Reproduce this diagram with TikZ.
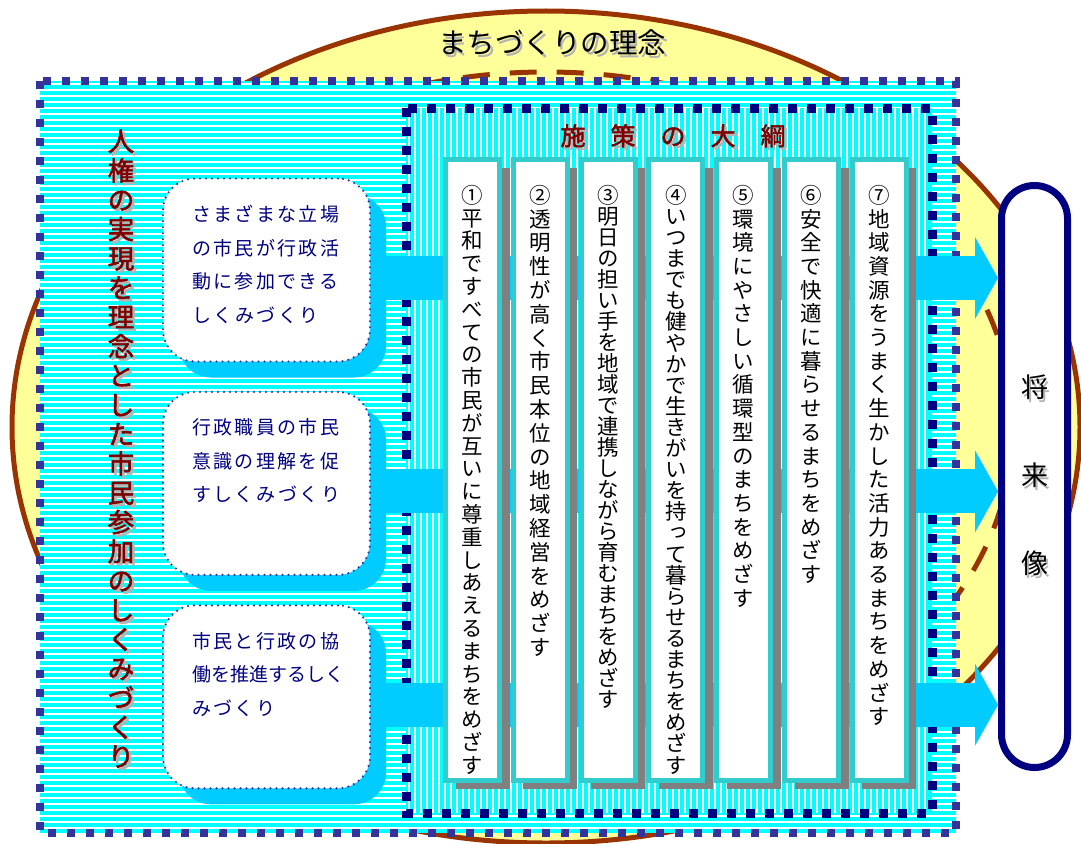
\documentclass[tikz,border=0pt]{standalone}
\usepackage{fontspec}
\setmainfont{Noto Sans CJK JP}
\newfontfamily\jpbold{Noto Sans CJK JP}[FakeBold=2]
\newfontfamily\jpvert{Noto Sans CJK JP}[RawFeature=+vert]
\newfontfamily\jpwide{Noto Sans CJK JP}[LetterSpace=12.6]
\usetikzlibrary{arrows.meta,positioning,shadows}

\definecolor{yellowbg}{HTML}{FFFF99}
\definecolor{brownline}{HTML}{993300}
\definecolor{stripecyan}{HTML}{00FFFF}
\definecolor{outerdot}{HTML}{333399}
\definecolor{innerdot}{HTML}{000080}
\definecolor{flowcyan}{HTML}{00CCFF}
\definecolor{colteal}{HTML}{33CCCC}
\definecolor{colshadow}{HTML}{808080}
\definecolor{darkred}{HTML}{800000}
\definecolor{txtshadow}{HTML}{B4B4B4}

\pgfdeclarelayer{backdrop}
\pgfdeclarelayer{flows}
\pgfsetlayers{backdrop,flows,main}

% characters stacked top to bottom
\ExplSyntaxOn
\NewDocumentCommand \tate { m m }
  {
    \tl_set:Nx \l_tmpa_tl {#2}
    \vbox:n
      {
        \skip_set:Nn \baselineskip {#1}
        \dim_set:Nn \lineskiplimit { -\c_max_dim }
        \tl_map_inline:Nn \l_tmpa_tl { \hbox_to_wd:nn { 1em } { \hss ##1 \hss } }
      }
  }
\ExplSyntaxOff
% grey text shadow
\newcommand\withshadow[1]{\makebox[0pt][l]{\hspace{2.5pt}\raisebox{-2.5pt}{\color{txtshadow}#1}}#1}

\begin{document}
\begin{tikzpicture}[
    x=1pt, y=-1pt,
    sqdots/.style ={line width=8pt, dash pattern=on 8pt off 11pt, line cap=butt},
    title/.style  ={font=\fontsize{28.5}{30}\selectfont, inner sep=0pt},
    heading/.style={font=\jpbold\fontsize{25}{27}\selectfont, text=darkred, inner sep=0pt},
    mech/.style   ={rectangle, rounded corners=32pt, draw=outerdot, line width=2.4pt,
                    dash pattern=on 0pt off 6pt, line cap=round, fill=white,
                    minimum width=207pt, minimum height=183pt, inner sep=0pt,
                    drop shadow={shadow xshift=16pt, shadow yshift=-16pt,
                                 fill=flowcyan, opacity=1}},
    mechtext/.style={font=\jpwide\fontsize{19}{33.5}\selectfont, text=innerdot,
                    align=left, inner sep=0pt},
    col/.style    ={rectangle, draw=colteal, line width=5pt, fill=white,
                    minimum width=54pt, minimum height=621pt, inner sep=0pt,
                    drop shadow={shadow xshift=10pt, shadow yshift=-8pt,
                                 fill=colshadow, opacity=1}},
    coltext/.style={font=\jpvert\fontsize{21.5}{23}\selectfont, inner sep=0pt},
    pill/.style   ={rectangle, rounded corners=33pt, draw=innerdot, line width=7pt,
                    fill=white, minimum width=66pt, minimum height=582pt, inner sep=0pt,
                    font=\fontsize{27}{29}\selectfont},
    flow/.style   ={draw=flowcyan, line width=44pt,
                    -{Triangle[length=23pt, width=82pt, line width=0pt]}}
]
\useasboundingbox (0,0) rectangle (1081,843);

\begin{pgfonlayer}{backdrop}
%–––– IDEA ELLIPSE ––––––––––––––––––––––––––––––––
\draw[brownline, line width=5pt, fill=yellowbg] (546,427) ellipse [x radius=534pt, y radius=416pt];
\draw[brownline, line width=5pt, dash pattern=on 27pt off 20pt] (546,427) ellipse [x radius=467pt, y radius=355pt];
\node (idea) [title] at (552,44) {\withshadow{まちづくりの理念}};

%–––– OUTER FRAME –––––––––––––––––––––––––––––––––
\fill[stripecyan] (40,81) rectangle (956,833);
\foreach \y in {84,90,...,830}
  \draw[white, line width=2pt] (40,\y) -- (956,\y);
\draw[sqdots, outerdot] (40,81) rectangle (956,833);

%–––– INNER FRAME –––––––––––––––––––––––––––––––––
\fill[stripecyan] (406,108) rectangle (932,813);
\foreach \x in {409,415,...,929}
  \draw[white, line width=2pt] (\x,108) -- (\x,813);
\draw[sqdots, innerdot, line width=9pt, dash pattern=on 9pt off 10pt] (406,108) rectangle (932,813);

\node (outline) [heading] at (673,137) {\withshadow{施　策　の　大　綱}};
\node (concept) [heading, font=\jpbold\fontsize{26.5}{28}\selectfont] at (121,450)
  {\withshadow{\tate{29.3pt}{人権の実現を理念とした市民参加のしくみづくり}}};
\end{pgfonlayer}

%–––– MECHANISMS –––––––––––––––––––––––––––––––––
\node (b1) [mech] at (266.5,270) {};
\node (b2) [mech, below=28pt of b1] {};
\node (b3) [mech, below=28pt of b2] {};

\node (m1) [mechtext, below right=28pt and 30pt of b1.north west]
  {さまざまな立場\\の市民が行政活\\動に参加できる\\しくみづくり};
\node (m2) [mechtext, below right=28pt and 30pt of b2.north west]
  {行政職員の市民\\意識の理解を促\\すしくみづくり};
\node (m3) [mechtext, below right=28pt and 30pt of b3.north west]
  {市民と行政の協\\{\addfontfeature{LetterSpace=0}働を推進するしく}\\みづくり};

%–––– POLICY COLUMNS ––––––––––––––––––––––––––––––
\node (c1) [col] at (472.5,470) {};
\foreach \i [remember=\i as \j (initially 1)] in {2,...,7}
  \node (c\i) [col, right=8.8pt of c\j] {};

\foreach \i/\p/\t in {1/22.8/①平和ですべての市民が互いに尊重しあえるまちをめざす,
                      2/23.8/②透明性が高く市民本位の地域経営をめざす,
                      3/21/③明日の担い手を地域で連携しながら育むまちをめざす,
                      4/21.1/④いつまでも健やかで生きがいを持って暮らせるまちをめざす,
                      5/23.7/⑤環境にやさしい循環型のまちをめざす,
                      6/23.7/⑥安全で快適に暮らせるまちをめざす,
                      7/23.7/⑦地域資源をうまく生かした活力あるまちをめざす}
  \node (t\i) [coltext, below=28pt of c\i.north] {\tate{\p pt}{\t}};

%–––– FUTURE ––––––––––––––––––––––––––––––––––––––
\node (future) [pill] at (1034.5,476.5) {\withshadow{\tate{88pt}{将来像}}};

%–––– FLOW ARROWS –––––––––––––––––––––––––––––––––
\begin{pgfonlayer}{flows}
\foreach \b in {b1,b2,b3}
  \draw[flow] ([yshift=-8pt]\b.center) -- ([yshift=-8pt]\b.center -| future.west);
\end{pgfonlayer}
\end{tikzpicture}
\end{document}
